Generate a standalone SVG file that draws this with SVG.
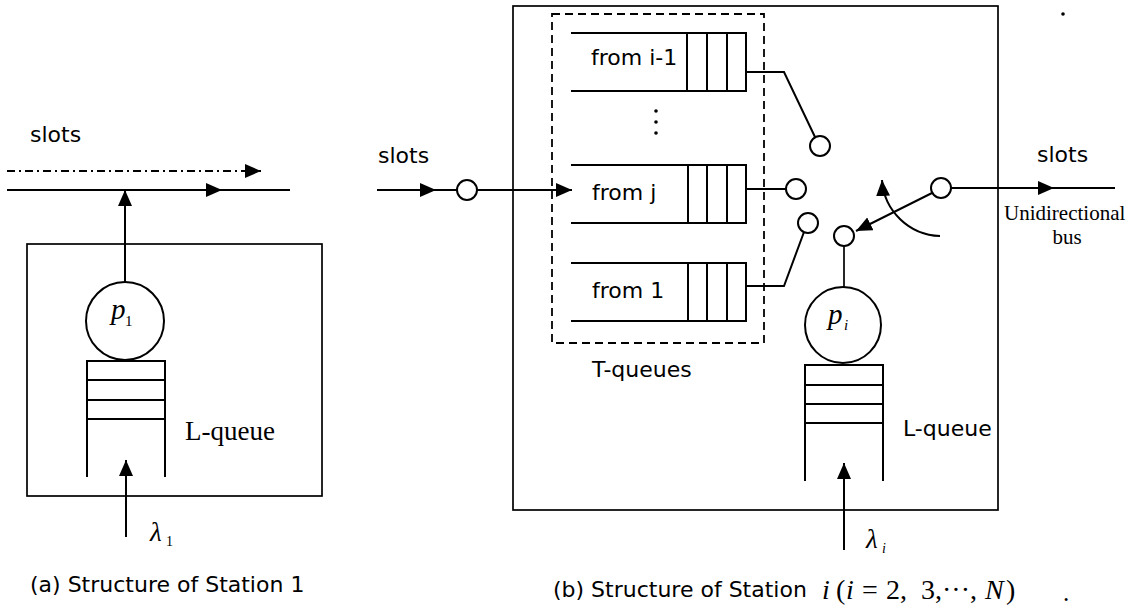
<svg xmlns="http://www.w3.org/2000/svg" width="1140" height="608" viewBox="0 0 1140 608">
<style>
.ln{fill:none;stroke:#000;stroke-width:2}
.thin{fill:none;stroke:#000;stroke-width:1.7}
.sans{font-family:"DejaVu Sans",Verdana,sans-serif;font-size:22px;fill:#000}
.serif{font-family:"Liberation Serif","Times New Roman",serif;fill:#000}
.it{font-style:italic}
.node{fill:#fff;stroke:#000;stroke-width:2}
</style>
<defs>
<marker id="ah" markerUnits="userSpaceOnUse" markerWidth="17" markerHeight="15" refX="16" refY="7" orient="auto">
<path d="M0,0 L16,7 L0,14 z" fill="#000"/>
</marker>
</defs>
<rect width="1140" height="608" fill="#fff"/>

<!-- (a) Station 1 -->
<g id="stationA">
<rect id="boxA" x="27" y="244" width="295" height="252" class="thin"/>
<text class="sans" x="30" y="142">slots</text>
<text class="serif" x="185" y="440" font-size="27">L-queue</text>
<text class="sans" x="30" y="592">(a) Structure of Station 1</text>
</g>
<g id="p1">
<circle cx="125" cy="321" r="39" class="node"/>
<text class="serif it" x="111" y="319" font-size="29">p</text>
<text class="serif" x="125" y="326" font-size="15">1</text>
</g>
<g id="lqueueA">
<path class="ln" d="M87,477 V361 H165 V477 M87,380 H165 M87,400 H165 M87,419 H165"/>
</g>
<g id="lambda1">
<text class="serif it" x="150" y="541" font-size="27">λ</text>
<text class="serif" x="166" y="546" font-size="14">1</text>
</g>

<!-- (b) Station i -->
<g id="stationB">
<rect id="boxB" x="513" y="6" width="485" height="504" class="thin"/>
<rect id="tqueues" x="552" y="14" width="212" height="329" fill="none" stroke="#000" stroke-width="1.8" stroke-dasharray="8 5"/>
<text class="sans" x="592" y="377">T-queues</text>
<text class="sans" x="903" y="436">L-queue</text>
<text class="sans" x="378" y="163">slots</text>
<text class="sans" x="1037" y="162">slots</text>
<text class="serif" x="1004" y="220" font-size="21">Unidirectional</text>
<text class="serif" x="1067" y="244" font-size="21" text-anchor="middle">bus</text>
<text class="sans" x="553" y="597">(b) Structure of Station</text>
<text class="serif" y="599" font-size="28"><tspan x="822" font-style="italic">i</tspan><tspan x="836">(</tspan><tspan x="846" font-style="italic">i</tspan><tspan x="862">=</tspan><tspan x="886">2,</tspan><tspan x="921">3,···,</tspan><tspan x="985" font-style="italic">N</tspan><tspan x="1006">)</tspan></text>
<text class="serif" x="1063" y="601" font-size="25">.</text>
<circle cx="1063" cy="14" r="1.8" fill="#000"/>
</g>
<g id="queueI1">
<path class="ln" d="M571,33 H746 V91 H571 M687,33 V91 M707,33 V91 M727,33 V91"/>
<text class="sans" x="591" y="65">from i-1</text>
</g>
<g id="ellipsis">
<circle cx="656" cy="111" r="1.8" fill="#000"/>
<circle cx="656" cy="122" r="1.8" fill="#000"/>
<circle cx="656" cy="133" r="1.8" fill="#000"/>
</g>
<g id="queueJ">
<path class="ln" d="M571,165 H746 V223 H571 M688,165 V223 M707,165 V223 M727,165 V223"/>
<text class="sans" x="592" y="200">from j</text>
</g>
<g id="queue1">
<path class="ln" d="M571,263 H746 V321 H571 M688,263 V321 M707,263 V321 M727,263 V321"/>
<text class="sans" x="592" y="298">from 1</text>
</g>
<g id="pi">
<circle cx="843" cy="325" r="38" class="node"/>
<text class="serif it" x="828" y="324" font-size="29">p</text>
<text class="serif it" x="844" y="330" font-size="15">i</text>
</g>
<g id="lqueueB">
<path class="ln" d="M805,481 V365 H883 V481 M805,385 H883 M805,404 H883 M805,423 H883"/>
</g>
<g id="lambdai">
<text class="serif it" x="866" y="548" font-size="27">λ</text>
<text class="serif it" x="882" y="553" font-size="14">i</text>
</g>

<!-- connectors -->
<g id="connectors">
<!-- (a) -->
<line x1="7" y1="171" x2="261" y2="171" class="ln" stroke-dasharray="8 4 2 4" marker-end="url(#ah)"/>
<line x1="7" y1="190" x2="222" y2="190" class="ln" marker-end="url(#ah)"/>
<line x1="215" y1="190" x2="290" y2="190" class="ln"/>
<line x1="125" y1="282" x2="125" y2="190" class="ln" marker-end="url(#ah)"/>
<line x1="126" y1="537" x2="126" y2="460" class="ln" marker-end="url(#ah)"/>
<!-- (b) input -->
<line x1="377" y1="190" x2="436" y2="190" class="ln" marker-end="url(#ah)"/>
<line x1="430" y1="190" x2="457" y2="190" class="ln"/>
<line x1="477" y1="190" x2="572" y2="190" class="ln" marker-end="url(#ah)"/>
<circle cx="467" cy="190" r="10" class="node"/>
<!-- switch contacts -->
<polyline points="746,72 784,72 815,137" class="ln"/>
<circle cx="820" cy="146" r="10" class="node"/>
<line x1="746" y1="189" x2="786" y2="189" class="ln"/>
<circle cx="796" cy="189" r="10" class="node"/>
<polyline points="746,286 784,286 804,232" class="ln"/>
<circle cx="808" cy="223" r="10" class="node"/>
<line x1="844" y1="246" x2="844" y2="287" class="thin"/>
<circle cx="844" cy="236" r="10" class="node"/>
<!-- output -->
<line x1="951" y1="188" x2="1054" y2="188" class="ln" marker-end="url(#ah)"/>
<line x1="1048" y1="188" x2="1115" y2="188" class="ln"/>
<line x1="932" y1="193" x2="856" y2="231" class="ln" marker-end="url(#ah)"/>
<circle cx="941" cy="188" r="10" class="node"/>
<path d="M940,236 A60,60 0 0 1 882,180" class="ln" marker-end="url(#ah)"/>
<line x1="844" y1="550" x2="844" y2="463" class="ln" marker-end="url(#ah)"/>
</g>
</svg>
